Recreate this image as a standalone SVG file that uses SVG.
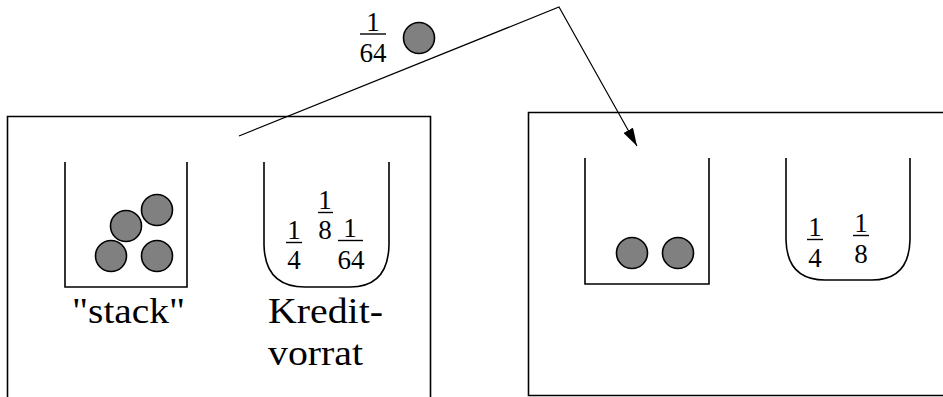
<svg xmlns="http://www.w3.org/2000/svg" width="943" height="397" viewBox="0 0 943 397">
  <defs>
    <style>
      .frame { fill: none; stroke: #000; stroke-width: 1.6; }
      .cup { fill: none; stroke: #000; stroke-width: 1.6; }
      .ball { fill: #808080; stroke: #000; stroke-width: 1.6; }
      .wire { fill: none; stroke: #000; stroke-width: 1.2; }
      .bar { stroke: #000; stroke-width: 1.4; }
      text { font-family: "Liberation Serif", "DejaVu Serif", serif; fill: #000; }
      .num { font-size: 27px; text-anchor: middle; }
      .lbl { font-size: 35px; }
    </style>
    <marker id="head" markerWidth="18" markerHeight="11" refX="18" refY="5.5" orient="auto" markerUnits="userSpaceOnUse">
      <path d="M0,0 L18,5.5 L0,11 Z" fill="#000"/>
    </marker>
  </defs>

  <!-- left machine state -->
  <g id="state-before">
    <path class="frame" d="M7.5,400 L7.5,116.5 L430.5,116.5 L430.5,400"/>
  </g>

  <g id="stack-before">
    <path class="cup" d="M65,162 L65,287 L187,287 L187,162"/>
    <circle class="ball" cx="126" cy="226" r="15.5"/>
    <circle class="ball" cx="157" cy="210" r="15.5"/>
    <circle class="ball" cx="111" cy="256" r="15.5"/>
    <circle class="ball" cx="157" cy="256" r="15.5"/>
    <text class="lbl" x="72" y="323" textLength="113" lengthAdjust="spacingAndGlyphs">"stack"</text>
  </g>

  <g id="credit-before">
    <path class="cup" d="M264,162 L264,245 Q265,287 305,287 L350,287 Q388,287 389,245 L389,162"/>
    <text class="num" x="294" y="239">1</text>
    <line class="bar" x1="286" y1="242.5" x2="302" y2="242.5"/>
    <text class="num" x="294" y="269">4</text>
    <text class="num" x="325" y="209">1</text>
    <line class="bar" x1="318" y1="212.5" x2="333" y2="212.5"/>
    <text class="num" x="325" y="239">8</text>
    <text class="num" x="350" y="237">1</text>
    <line class="bar" x1="338" y1="240.5" x2="363" y2="240.5"/>
    <text class="num" x="351" y="269">64</text>
    <text class="lbl" x="268" y="323" textLength="115" lengthAdjust="spacingAndGlyphs">Kredit-</text>
    <text class="lbl" x="268" y="365" textLength="95" lengthAdjust="spacingAndGlyphs">vorrat</text>
  </g>

  <!-- right machine state -->
  <g id="state-after">
    <path class="frame" d="M945,112.5 L528.5,112.5 L528.5,395.5 L945,395.5"/>
  </g>

  <g id="stack-after">
    <path class="cup" d="M585,158 L585,284 L709,284 L709,158"/>
    <circle class="ball" cx="632" cy="253" r="15.5"/>
    <circle class="ball" cx="678" cy="253" r="15.5"/>
  </g>

  <g id="credit-after">
    <path class="cup" d="M786,158 L786,240 Q787,280 825,280 L872,280 Q909,280 910,240 L910,158"/>
    <text class="num" x="815" y="236">1</text>
    <line class="bar" x1="807" y1="239.5" x2="823" y2="239.5"/>
    <text class="num" x="815" y="267">4</text>
    <text class="num" x="861" y="232">1</text>
    <line class="bar" x1="853" y1="235.5" x2="869" y2="235.5"/>
    <text class="num" x="861" y="263">8</text>
  </g>

  <!-- credit token in transit -->
  <g id="token">
    <text class="num" x="373" y="31">1</text>
    <line class="bar" x1="360" y1="34" x2="386" y2="34"/>
    <text class="num" x="373" y="62">64</text>
    <circle class="ball" cx="419" cy="38" r="15.5"/>
  </g>

  <g id="connectors">
    <path class="wire" d="M239,136 L559,7 L637,146" marker-end="url(#head)"/>
  </g>
</svg>
